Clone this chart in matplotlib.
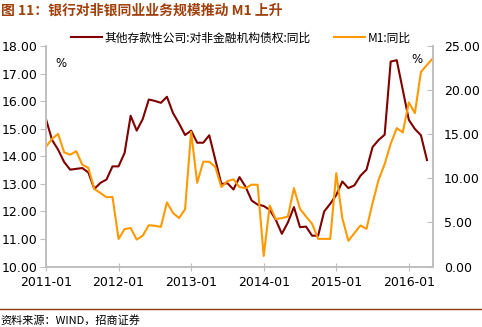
import matplotlib
matplotlib.use('Agg')
import matplotlib.pyplot as plt

plt.rcParams['font.family'] = ['DejaVu Sans', 'Noto Sans CJK SC']
plt.rcParams['axes.unicode_minus'] = False

cjk = ['Noto Sans CJK SC', 'DejaVu Sans']

# monthly, starting 2011-01
deposit_claims = [15.36, 14.6, 14.25, 13.8, 13.52, 13.55, 13.58, 13.42, 12.82, 13.04,
                  13.16, 13.64, 13.64, 14.13, 15.48, 14.94, 15.36, 16.07, 16.02, 15.95,
                  16.17, 15.58, 15.2, 14.78, 14.94, 14.5, 14.5, 14.77, 13.88, 13.0,
                  13.03, 12.8, 13.25, 12.9, 12.4, 12.25, 12.2, 12.06, 11.7, 11.19,
                  11.6, 12.16, 11.43, 11.45, 11.12, 11.12, 12.0, 12.28, 12.6, 13.09,
                  12.85, 12.95, 13.3, 13.52, 14.34, 14.6, 14.79, 17.45, 17.5, 16.42,
                  15.33, 15.0, 14.77, 13.87]
m1_yoy = [13.6, 14.5, 15.06, 12.97, 12.7, 13.1, 11.57, 11.2, 8.8, 8.35,
          7.87, 7.9, 3.13, 4.25, 4.37, 3.06, 3.5, 4.69, 4.63, 4.5,
          7.28, 6.09, 5.5, 6.5, 15.3, 9.5, 11.9, 11.9, 11.3, 9.03,
          9.7, 9.9, 9.03, 8.9, 9.3, 9.28, 1.2, 6.93, 5.38, 5.5,
          5.68, 8.9, 6.55, 5.68, 4.85, 3.14, 3.14, 3.14, 10.6, 5.5,
          2.92, 3.8, 4.66, 4.28, 7.2, 9.85, 11.63, 13.94, 15.72, 15.23,
          18.64, 17.42, 22.1, 22.9, 23.67]

tick_pos = [0, 12, 24, 36, 48, 60]
tick_labels = ['2011-01', '2012-01', '2013-01', '2014-01', '2015-01', '2016-01']
left_ticks = [10, 11, 12, 13, 14, 15, 16, 17, 18]
right_ticks = [0, 5, 10, 15, 20, 25]

DARK = '#800000'
ORANGE = '#FF9900'
AXC = '#BFBFBF'

fig = plt.figure(figsize=(4.82, 3.27), dpi=100)
ax = fig.add_axes([0.0954, 0.185, 0.803, 0.673])
ax2 = ax.twinx()

l1, = ax.plot(range(len(deposit_claims)), deposit_claims, color=DARK, lw=1.5,
              label='其他存款性公司:对非金融机构债权:同比')
l2, = ax2.plot(range(len(m1_yoy)), m1_yoy, color=ORANGE, lw=1.5, label='M1:同比')

ax.set_xlim(0, 64)
ax.set_ylim(10, 18)
ax2.set_ylim(0, 25)
ax.set_yticks(left_ticks)
ax.set_yticklabels(['%.2f' % v for v in left_ticks])
ax2.set_yticks(right_ticks)
ax2.set_yticklabels(['%.2f' % v for v in right_ticks])
ax.set_xticks(tick_pos)
ax.set_xticklabels(tick_labels)

for a in (ax, ax2):
    a.spines['top'].set_visible(False)
    for s in ('left', 'right', 'bottom'):
        a.spines[s].set_color(AXC)
        a.spines[s].set_linewidth(1.2)
ax.tick_params(axis='y', direction='out', length=4, color=AXC, labelsize=9, pad=2)
ax2.tick_params(axis='y', direction='in', length=4, color=AXC, labelsize=9, pad=8)
ax.tick_params(axis='x', direction='inout', length=6, color=AXC, labelsize=9, pad=4)

ax.text(0.025, 0.905, '%', transform=ax.transAxes, fontsize=8.5)
ax2.text(0.945, 0.925, '%', transform=ax2.transAxes, fontsize=8.5)

fig.legend(handles=[l1, l2], loc='center', bbox_to_anchor=(0.5, 0.884), ncol=2,
           frameon=False, prop={'family': cjk, 'size': 8.5}, handlelength=2.6,
           columnspacing=2.0, handletextpad=0.2)

fig.text(0.002, 0.968, '图 11：银行对非银同业业务规模推动 M1 上升', fontsize=10,
         fontweight='bold', color='#A0410D', family=cjk, va='center')

fig.add_artist(plt.Line2D([0, 1], [1 - 309 / 327, 1 - 309 / 327], color='#8B3A0F', lw=1))
fig.text(0.002, 1 - 320 / 327, '资料来源：WIND，招商证券', fontsize=8, family=cjk, va='center')

fig.savefig('out.png', dpi=100)
